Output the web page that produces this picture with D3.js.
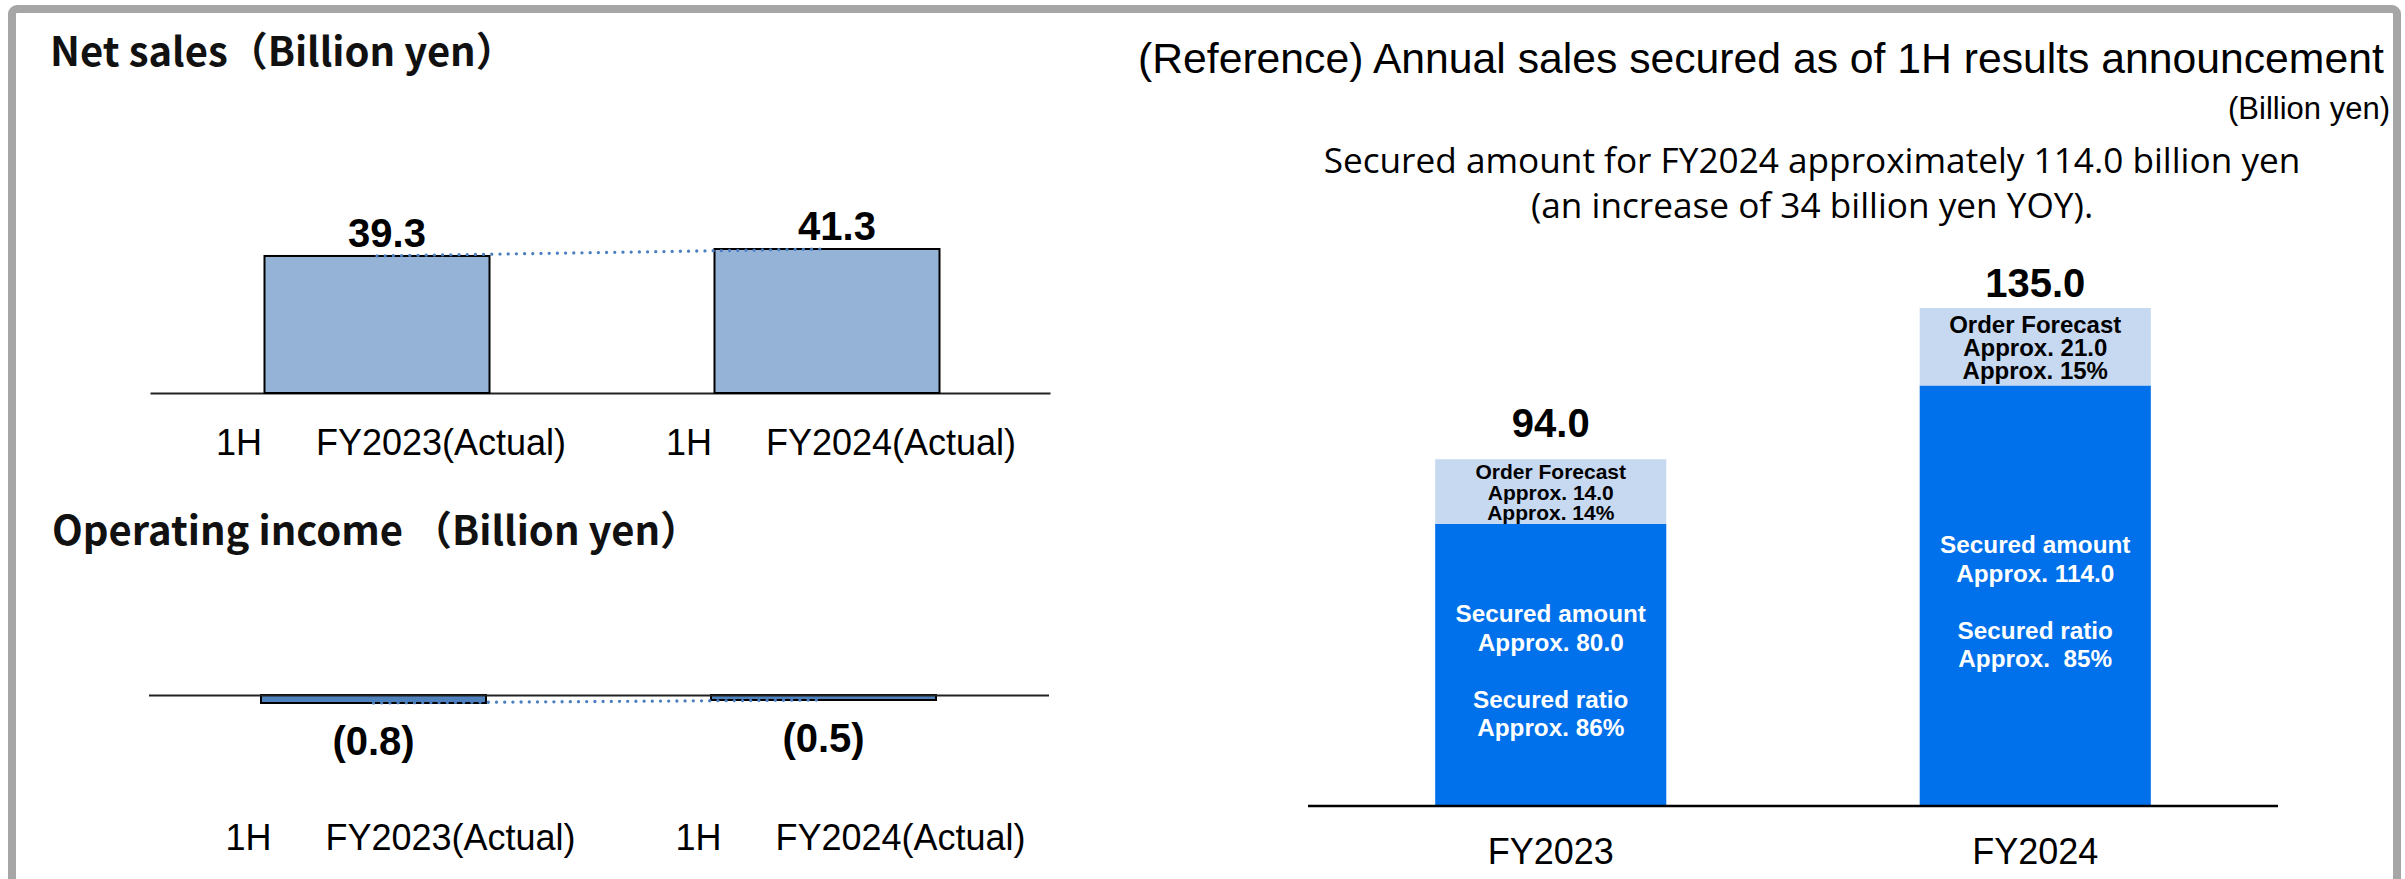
<!DOCTYPE html>
<html>
<head>
<meta charset="utf-8">
<style>
  body { margin: 0; background: #fff; }
  svg { display: block; }
  text { white-space: pre; }
</style>
</head>
<body>
<svg width="2405" height="879" id="svgMain"></svg>
<script src="https://d3js.org/d3.v7.min.js"></script>
<script>
//-----------------------------------------------------
//              DATA
//-----------------------------------------------------
var periods = ["1H\u3000\u2002FY2023(Actual)", "1H\u3000\u2002FY2024(Actual)"];
var netSales = [39.3, 41.3];
var opIncome = [-0.8, -0.5];

var years = ["FY2023", "FY2024"];
var secured = [76.5, 114.0];     // blue part, as drawn
var forecast = [17.5, 21.0];     // light part, as drawn
var totals = [94.0, 135.0];

var forecastText = [
  ["Order Forecast", "Approx. 14.0", "Approx. 14%"],
  ["Order Forecast", "Approx. 21.0", "Approx. 15%"]
];
var securedText = [
  ["Secured amount", "Approx. 80.0", "Secured ratio", "Approx. 86%"],
  ["Secured amount", "Approx. 114.0", "Secured ratio", "Approx.  85%"]
];

var titleSales = "Net sales\uFF08Billion yen\uFF09";
var titleIncome = "Operating income \uFF08Billion yen\uFF09";
var titleRight = "(Reference) Annual sales secured as of 1H results announcement";
var unitRight = "(Billion yen)";
var noteRight = ["Secured amount for FY2024 approximately 114.0 billion yen",
                 "(an increase of 34 billion yen YOY)."];

//-----------------------------------------------------
//              SETUP
//-----------------------------------------------------
var svg = d3.select("svg");
var ARIAL = "'Liberation Sans', Arial, sans-serif";
var JP = "'Noto Sans CJK JP', 'Noto Sans', sans-serif";

// grey frame round the slide
svg.append("rect")
    .attr("x", 12).attr("y", 9)
    .attr("width", 2385).attr("height", 900)
    .attr("rx", 5)
    .attr("fill", "none")
    .attr("stroke", "#a6a6a6")
    .attr("stroke-width", 8);

//-----------------------------------------------------
//              NET SALES (top left)
//-----------------------------------------------------
svg.append("text")
    .attr("x", 50).attr("y", 66)
    .style("font", "bold 40px " + JP)
    .attr("fill", "#111")
    .text(titleSales);

var x1 = d3.scaleBand().domain(periods).range([152, 1052]).paddingInner(0.5).paddingOuter(0.25);
var y1 = d3.scaleLinear().domain([0, d3.max(netSales)]).range([393, 249]);

var g1 = svg.append("g");

g1.append("g")
    .attr("transform", "translate(-2," + y1(0) + ")")
    .call(d3.axisBottom(x1).tickSize(0).tickFormat(""))
    .select(".domain").attr("stroke", "#222").attr("stroke-width", 2);

g1.selectAll(".bar")
    .data(netSales)
    .enter().append("rect")
    .attr("x", function(d, i) { return x1(periods[i]); })
    .attr("y", function(d) { return y1(d); })
    .attr("width", x1.bandwidth())
    .attr("height", function(d) { return y1(0) - y1(d); })
    .attr("fill", "#95b3d7")
    .attr("stroke", "#000")
    .attr("stroke-width", 2);

g1.append("path")
    .datum(netSales)
    .attr("d", d3.line()
        .x(function(d, i) { return x1(periods[i]) + x1.bandwidth() / 2; })
        .y(function(d) { return y1(d); }))
    .attr("fill", "none")
    .attr("stroke", "#4a7ec0")
    .attr("stroke-width", 3.3)
    .attr("stroke-linecap", "round")
    .attr("stroke-dasharray", "0 8.2");

g1.selectAll(".val")
    .data(netSales)
    .enter().append("text")
    .attr("x", function(d, i) { return x1(periods[i]) + x1.bandwidth() / 2 + 10; })
    .attr("y", function(d) { return y1(d) - 9; })
    .attr("text-anchor", "middle")
    .style("font", "bold 40px " + ARIAL)
    .text(function(d) { return d3.format(".1f")(d); });

g1.selectAll(".cat")
    .data(periods)
    .enter().append("text")
    .attr("x", function(d) { return x1(d) + x1.bandwidth() / 2 + 14; })
    .attr("y", 455)
    .attr("text-anchor", "middle")
    .style("font", "36px " + ARIAL)
    .text(function(d) { return d; });

//-----------------------------------------------------
//              OPERATING INCOME (bottom left)
//-----------------------------------------------------
svg.append("text")
    .attr("x", 52).attr("y", 545)
    .style("font", "bold 40px " + JP)
    .attr("fill", "#111")
    .text(titleIncome);

var x2 = d3.scaleBand().domain(periods).range([148.5, 1048.5]).paddingInner(0.5).paddingOuter(0.25);
var y2 = d3.scaleLinear().domain([d3.min(opIncome), 0]).range([703, 695]);

var g2 = svg.append("g");

g2.selectAll(".bar")
    .data(opIncome)
    .enter().append("rect")
    .attr("x", function(d, i) { return x2(periods[i]); })
    .attr("y", y2(0))
    .attr("width", x2.bandwidth())
    .attr("height", function(d) { return y2(d) - y2(0); })
    .attr("fill", "#4f81bd")
    .attr("stroke", "#000")
    .attr("stroke-width", 2);

g2.append("g")
    .attr("transform", "translate(0," + y2(0) + ")")
    .call(d3.axisBottom(x2).tickSize(0).tickFormat(""))
    .select(".domain").attr("stroke", "#222").attr("stroke-width", 2);

g2.append("path")
    .datum(opIncome)
    .attr("d", d3.line()
        .x(function(d, i) { return x2(periods[i]) + x2.bandwidth() / 2; })
        .y(function(d) { return y2(d); }))
    .attr("fill", "none")
    .attr("stroke", "#4a7ec0")
    .attr("stroke-width", 3.3)
    .attr("stroke-linecap", "round")
    .attr("stroke-dasharray", "0 8.2");

g2.selectAll(".val")
    .data(opIncome)
    .enter().append("text")
    .attr("x", function(d, i) { return x2(periods[i]) + x2.bandwidth() / 2; })
    .attr("y", function(d) { return y2(d) + 52; })
    .attr("text-anchor", "middle")
    .style("font", "bold 40px " + ARIAL)
    .text(function(d) { return "(" + d3.format(".1f")(Math.abs(d)) + ")"; });

g2.selectAll(".cat")
    .data(periods)
    .enter().append("text")
    .attr("x", function(d) { return x2(d) + x2.bandwidth() / 2 + 27; })
    .attr("y", 850)
    .attr("text-anchor", "middle")
    .style("font", "36px " + ARIAL)
    .text(function(d) { return d; });

//-----------------------------------------------------
//              ANNUAL SALES SECURED (right)
//-----------------------------------------------------
svg.append("text")
    .attr("x", 1138).attr("y", 73)
    .style("font", "42.7px " + ARIAL)
    .text(titleRight);

svg.append("text")
    .attr("x", 2390).attr("y", 119)
    .attr("text-anchor", "end")
    .style("font", "31px " + ARIAL)
    .text(unitRight);

svg.selectAll(".note")
    .data(noteRight)
    .enter().append("text")
    .attr("x", 1812)
    .attr("y", function(d, i) { return 173 + i * 45; })
    .attr("text-anchor", "middle")
    .style("font", "35.2px 'Open Sans', sans-serif")
    .text(function(d) { return d; });

var x3 = d3.scaleBand().domain(years).range([1308, 2278]).paddingInner(0.523).paddingOuter(0.2625);
var y3 = d3.scaleLinear().domain([0, d3.max(totals)]).range([806, 308]);

var rows = years.map(function(y, i) { return {year: y, secured: secured[i], forecast: forecast[i]}; });
var stack = d3.stack().keys(["secured", "forecast"])(rows);
var fills = {secured: "#0071eb", forecast: "#c6d9f1"};

var g3 = svg.append("g");

g3.selectAll(".layer")
    .data(stack)
    .enter().append("g")
    .attr("fill", function(d) { return fills[d.key]; })
  .selectAll("rect")
    .data(function(d) { return d; })
    .enter().append("rect")
    .attr("x", function(d) { return x3(d.data.year); })
    .attr("y", function(d) { return y3(d[1]); })
    .attr("width", x3.bandwidth())
    .attr("height", function(d) { return y3(d[0]) - y3(d[1]); });

g3.append("line")
    .attr("x1", x3.range()[0]).attr("x2", x3.range()[1])
    .attr("y1", y3(0)).attr("y2", y3(0))
    .attr("stroke", "#000")
    .attr("stroke-width", 2.5);

// order forecast text (light part)
var fSize = [21, 24];
stack[1].forEach(function(d, i) {
  var cx = x3(d.data.year) + x3.bandwidth() / 2;
  var cy = (y3(d[0]) + y3(d[1])) / 2;
  forecastText[i].forEach(function(t, j) {
    g3.append("text")
        .attr("x", cx)
        .attr("y", cy - 0.58 * fSize[i] + j * fSize[i] * 0.97)
        .attr("text-anchor", "middle")
        .style("font", "bold " + fSize[i] + "px " + ARIAL)
        .attr("fill", "#000")
        .text(t);
  });
});

// secured text (blue part)
var sOff = [-43, -14, 43, 71];
stack[0].forEach(function(d, i) {
  var cx = x3(d.data.year) + x3.bandwidth() / 2;
  var cy = (y3(d[0]) + y3(d[1])) / 2;
  securedText[i].forEach(function(t, j) {
    g3.append("text")
        .attr("x", cx)
        .attr("y", cy + sOff[j])
        .attr("text-anchor", "middle")
        .style("font", "bold 24.3px " + ARIAL)
        .attr("fill", "#fff")
        .text(t);
  });
});

// totals on top
g3.selectAll(".total")
    .data(totals)
    .enter().append("text")
    .attr("x", function(d, i) { return x3(years[i]) + x3.bandwidth() / 2; })
    .attr("y", function(d, i) { return y3(d) - (i === 0 ? 22 : 11); })
    .attr("text-anchor", "middle")
    .style("font", "bold 40px " + ARIAL)
    .text(function(d) { return d3.format(".1f")(d); });

g3.selectAll(".cat")
    .data(years)
    .enter().append("text")
    .attr("x", function(d) { return x3(d) + x3.bandwidth() / 2; })
    .attr("y", 864)
    .attr("text-anchor", "middle")
    .style("font", "36px " + ARIAL)
    .text(function(d) { return d; });
</script>
</body>
</html>
